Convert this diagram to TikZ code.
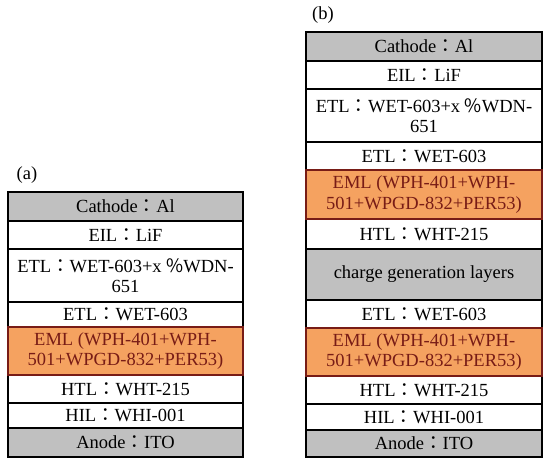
\documentclass[tikz,border=0pt]{standalone}
\usepackage{fontspec}
\setmainfont{Liberation Serif}
\newfontfamily\cjk{Noto Sans CJK TC}
\newcommand{\fc}{{\cjk ：}}
\newcommand{\pc}{{\cjk \%}}
\definecolor{cgray}{RGB}{192,192,192}
\definecolor{corange}{RGB}{245,162,96}
\definecolor{cred}{RGB}{120,28,22}
\begin{document}
\begin{tikzpicture}[x=1pt,y=-1pt,
  every node/.style={font=\fontsize{18.5}{20.5}\selectfont, inner sep=0pt, align=center},
  wa/.style={minimum width=235pt},
  wb/.style={minimum width=236pt},
  plain/.style={draw=black, line width=1.8pt, fill=white, text=black},
  grey/.style={draw=black, line width=1.8pt, fill=cgray, text=black},
  orange/.style={draw=cred, line width=1.8pt, fill=corange, text=cred},
  tag/.style={font=\fontsize{18.5}{20.5}\selectfont}]
\useasboundingbox (0,0) rectangle (550,466);
% panel (a)
\node[tag] (la) at (27,175) {(a)};
\node[grey,wa,minimum height=29pt] (a1) at (125.5,206.5) {Cathode\fc Al};
\node[plain,wa,minimum height=28pt] (a2) at (125.5,235) {EIL\fc LiF};
\node[plain,wa,minimum height=53pt] (a3) at (125.5,275.5) {ETL\fc WET-603+x \pc WDN-\\651};
\node[plain,wa,minimum height=25pt] (a4) at (125.5,314.5) {ETL\fc WET-603};
\node[plain,wa,minimum height=28pt] (a6) at (125.5,389) {HTL\fc WHT-215};
\node[plain,wa,minimum height=25pt] (a7) at (125.5,415.5) {HIL\fc WHI-001};
\node[grey,wa,minimum height=29pt] (a8) at (125.5,442.5) {Anode\fc ITO};
\node[orange,wa,minimum height=48pt] (a5) at (125.5,351) {EML (WPH-401+WPH-\\501+WPGD-832+PER53)};
% panel (b)
\node[tag] (lb) at (323,15) {(b)};
\node[grey,wb,minimum height=29pt] (b1) at (424,46.5) {Cathode\fc Al};
\node[plain,wb,minimum height=28pt] (b2) at (424,75) {EIL\fc LiF};
\node[plain,wb,minimum height=53pt] (b3) at (424,115.5) {ETL\fc WET-603+x \pc WDN-\\651};
\node[plain,wb,minimum height=28pt] (b4) at (424,156) {ETL\fc WET-603};
\node[plain,wb,minimum height=30pt] (b6) at (424,234) {HTL\fc WHT-215};
\node[grey,wb,minimum height=51pt] (b7) at (424,274.5) {charge generation layers};
\node[plain,wb,minimum height=28pt] (b8) at (424,314) {ETL\fc WET-603};
\node[plain,wb,minimum height=28pt] (b10) at (424,390) {HTL\fc WHT-215};
\node[plain,wb,minimum height=26pt] (b11) at (424,417) {HIL\fc WHI-001};
\node[grey,wb,minimum height=27pt] (b12) at (424,443.5) {Anode\fc ITO};
\node[orange,wb,minimum height=49pt] (b5) at (424,194.5) {EML (WPH-401+WPH-\\501+WPGD-832+PER53)};
\node[orange,wb,minimum height=48pt] (b9) at (424,352) {EML (WPH-401+WPH-\\501+WPGD-832+PER53)};
\end{tikzpicture}
\end{document}
